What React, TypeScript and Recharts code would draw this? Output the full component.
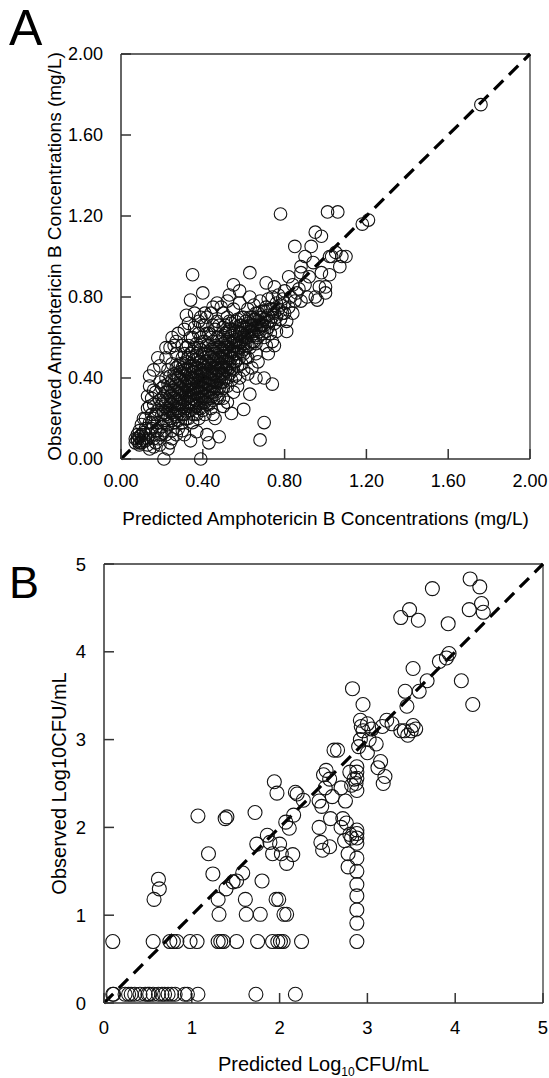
import React from 'react';
import { ScatterChart, Scatter, XAxis, YAxis, ReferenceLine } from 'recharts';

// A: predicted vs observed amphotericin B (mg/L)
const ampTicks = [0, 0.4, 0.8, 1.2, 1.6, 2.0];
const ampPoints: [number, number][] = [
  // near the origin
  [0.07, 0.08], [0.08, 0.09], [0.09, 0.08], [0.08, 0.1], [0.1, 0.09], [0.09, 0.11], [0.11, 0.1],
  [0.1, 0.12], [0.12, 0.09], [0.07, 0.1], [0.09, 0.07], [0.11, 0.13], [0.12, 0.15], [0.1, 0.17],
  [0.11, 0.2], [0.09, 0.14], [0.12, 0.12], [0.13, 0.1], [0.1, 0.08], [0.08, 0.12],
  [0.14, 0.05], [0.16, 0.06], [0.18, 0.1], [0.2, 0.12], [0.19, 0.07], [0.25, 0.1], [0.27, 0.12], [0.3, 0.14],
  // 0.12 - 0.2
  [0.13, 0.07], [0.14, 0.12], [0.14, 0.18], [0.15, 0.22], [0.13, 0.25], [0.13, 0.31], [0.14, 0.41],
  [0.15, 0.15], [0.16, 0.1], [0.16, 0.2], [0.16, 0.27], [0.17, 0.14], [0.17, 0.33], [0.18, 0.18],
  [0.18, 0.5], [0.18, 0.24], [0.19, 0.12], [0.19, 0.29], [0.19, 0.38], [0.2, 0.16], [0.2, 0.22],
  [0.2, 0.35], [0.15, 0.3], [0.17, 0.08], [0.12, 0.2], [0.14, 0.36], [0.16, 0.44], [0.19, 0.46],
  [0.15, 0.18], [0.17, 0.22], [0.18, 0.14], [0.16, 0.34], [0.14, 0.26],
  // 0.2 - 0.3
  [0.21, 0.0], [0.23, 0.05], [0.24, 0.08], [0.21, 0.14], [0.21, 0.19], [0.21, 0.26], [0.21, 0.31],
  [0.22, 0.12], [0.22, 0.22], [0.22, 0.28], [0.22, 0.4], [0.22, 0.5], [0.23, 0.17], [0.23, 0.24],
  [0.23, 0.33], [0.23, 0.44], [0.24, 0.2], [0.24, 0.27], [0.24, 0.36], [0.24, 0.55], [0.25, 0.14],
  [0.25, 0.23], [0.25, 0.3], [0.25, 0.39], [0.25, 0.47], [0.26, 0.18], [0.26, 0.26], [0.26, 0.34],
  [0.26, 0.42], [0.27, 0.21], [0.27, 0.29], [0.27, 0.37], [0.27, 0.52], [0.28, 0.15], [0.28, 0.24],
  [0.28, 0.32], [0.28, 0.4], [0.28, 0.46], [0.29, 0.22], [0.29, 0.27], [0.29, 0.35], [0.29, 0.43],
  [0.3, 0.18], [0.3, 0.3], [0.3, 0.38], [0.3, 0.5], [0.26, 0.56], [0.21, 0.36], [0.23, 0.29],
  [0.2, 0.27], [0.2, 0.3], [0.21, 0.23], [0.22, 0.19], [0.22, 0.33], [0.23, 0.21], [0.23, 0.37],
  [0.24, 0.24], [0.24, 0.31], [0.24, 0.41], [0.25, 0.19], [0.25, 0.27], [0.25, 0.34], [0.26, 0.22],
  [0.26, 0.3], [0.26, 0.38], [0.27, 0.25], [0.27, 0.33], [0.27, 0.41], [0.27, 0.45], [0.28, 0.19],
  [0.28, 0.28], [0.28, 0.36], [0.29, 0.31], [0.29, 0.39], [0.29, 0.47], [0.3, 0.22], [0.3, 0.26],
  [0.3, 0.34], [0.3, 0.42], [0.3, 0.45],
  // 0.3 - 0.4
  [0.31, 0.12], [0.31, 0.22], [0.31, 0.27], [0.31, 0.33], [0.31, 0.41], [0.31, 0.47], [0.32, 0.25],
  [0.32, 0.3], [0.32, 0.36], [0.32, 0.44], [0.32, 0.55], [0.32, 0.71], [0.33, 0.2], [0.33, 0.28],
  [0.33, 0.34], [0.33, 0.39], [0.33, 0.5], [0.34, 0.09], [0.34, 0.24], [0.34, 0.31], [0.34, 0.37],
  [0.34, 0.42], [0.34, 0.6], [0.34, 0.785], [0.35, 0.91], [0.35, 0.18], [0.35, 0.27], [0.35, 0.33],
  [0.35, 0.4], [0.35, 0.46], [0.35, 0.53], [0.36, 0.22], [0.36, 0.29], [0.36, 0.35], [0.36, 0.43],
  [0.36, 0.49], [0.36, 0.65], [0.37, 0.135], [0.37, 0.26], [0.37, 0.32], [0.37, 0.38], [0.37, 0.45],
  [0.37, 0.57], [0.38, 0.2], [0.38, 0.3], [0.38, 0.36], [0.38, 0.41], [0.38, 0.5], [0.38, 0.62],
  [0.39, 0.0], [0.39, 0.7], [0.39, 0.25], [0.39, 0.33], [0.39, 0.39], [0.39, 0.44], [0.39, 0.54],
  [0.4, 0.28], [0.4, 0.35], [0.4, 0.42], [0.4, 0.47], [0.4, 0.58], [0.4, 0.82],
  [0.31, 0.29], [0.31, 0.37], [0.31, 0.44], [0.31, 0.52], [0.32, 0.2], [0.32, 0.33], [0.32, 0.4],
  [0.32, 0.48], [0.33, 0.24], [0.33, 0.31], [0.33, 0.37], [0.33, 0.44], [0.33, 0.56], [0.34, 0.28],
  [0.34, 0.34], [0.34, 0.4], [0.34, 0.46], [0.34, 0.52], [0.35, 0.22], [0.35, 0.3], [0.35, 0.37],
  [0.35, 0.43], [0.35, 0.5], [0.35, 0.6], [0.36, 0.26], [0.36, 0.32], [0.36, 0.39], [0.36, 0.46],
  [0.36, 0.55], [0.37, 0.22], [0.37, 0.29], [0.37, 0.35], [0.37, 0.42], [0.37, 0.49], [0.37, 0.52],
  [0.38, 0.25], [0.38, 0.33], [0.38, 0.39], [0.38, 0.45], [0.38, 0.55], [0.39, 0.29], [0.39, 0.36],
  [0.39, 0.42], [0.39, 0.48], [0.39, 0.6], [0.4, 0.24], [0.4, 0.31], [0.4, 0.38], [0.4, 0.44],
  [0.4, 0.52], [0.4, 0.66],
  // 0.4 - 0.5
  [0.41, 0.22], [0.41, 0.31], [0.41, 0.38], [0.41, 0.45], [0.41, 0.52], [0.41, 0.66], [0.42, 0.12],
  [0.42, 0.27], [0.42, 0.34], [0.42, 0.4], [0.42, 0.48], [0.42, 0.56], [0.43, 0.08], [0.43, 0.3],
  [0.43, 0.37], [0.43, 0.43], [0.43, 0.51], [0.43, 0.62], [0.44, 0.25], [0.44, 0.33], [0.44, 0.39],
  [0.44, 0.46], [0.44, 0.54], [0.44, 0.72], [0.45, 0.29], [0.45, 0.36], [0.45, 0.42], [0.45, 0.49],
  [0.45, 0.58], [0.46, 0.2], [0.46, 0.32], [0.46, 0.38], [0.46, 0.45], [0.46, 0.52], [0.46, 0.64],
  [0.47, 0.35], [0.47, 0.41], [0.47, 0.48], [0.47, 0.55], [0.47, 0.68], [0.48, 0.11], [0.48, 0.3],
  [0.48, 0.39], [0.48, 0.44], [0.48, 0.5], [0.48, 0.6], [0.49, 0.34], [0.49, 0.42], [0.49, 0.47],
  [0.49, 0.53], [0.49, 0.75], [0.5, 0.38], [0.5, 0.45], [0.5, 0.51], [0.5, 0.57], [0.5, 0.65], [0.5, 0.26],
  [0.41, 0.28], [0.41, 0.35], [0.41, 0.42], [0.41, 0.48], [0.41, 0.58], [0.42, 0.31], [0.42, 0.37],
  [0.42, 0.44], [0.42, 0.52], [0.42, 0.62], [0.43, 0.27], [0.43, 0.34], [0.43, 0.4], [0.43, 0.47],
  [0.43, 0.56], [0.44, 0.3], [0.44, 0.36], [0.44, 0.42], [0.44, 0.5], [0.44, 0.6], [0.45, 0.33],
  [0.45, 0.39], [0.45, 0.45], [0.45, 0.53], [0.45, 0.66], [0.46, 0.36], [0.46, 0.42], [0.46, 0.49],
  [0.46, 0.56], [0.47, 0.3], [0.47, 0.38], [0.47, 0.45], [0.47, 0.51], [0.47, 0.6], [0.48, 0.35],
  [0.48, 0.42], [0.48, 0.47], [0.48, 0.55], [0.48, 0.66], [0.49, 0.38], [0.49, 0.45], [0.49, 0.5],
  [0.49, 0.58], [0.5, 0.35], [0.5, 0.42], [0.5, 0.48], [0.5, 0.54], [0.5, 0.61],
  // 0.5 - 0.6
  [0.51, 0.4], [0.51, 0.48], [0.51, 0.55], [0.51, 0.62], [0.52, 0.36], [0.52, 0.44], [0.52, 0.51],
  [0.52, 0.59], [0.52, 0.7], [0.53, 0.81], [0.53, 0.42], [0.53, 0.47], [0.53, 0.54], [0.53, 0.64],
  [0.54, 0.225], [0.54, 0.39], [0.54, 0.5], [0.54, 0.57], [0.54, 0.67], [0.55, 0.86], [0.55, 0.44],
  [0.55, 0.53], [0.55, 0.6], [0.55, 0.74], [0.56, 0.41], [0.56, 0.48], [0.56, 0.56], [0.56, 0.63],
  [0.57, 0.46], [0.57, 0.52], [0.57, 0.59], [0.57, 0.69], [0.58, 0.83], [0.58, 0.4], [0.58, 0.5],
  [0.58, 0.55], [0.58, 0.62], [0.58, 0.77], [0.59, 0.47], [0.59, 0.58], [0.59, 0.66], [0.6, 0.245],
  [0.6, 0.54], [0.6, 0.52], [0.6, 0.61], [0.6, 0.7], [0.6, 0.44],
  [0.51, 0.44], [0.51, 0.51], [0.51, 0.58], [0.51, 0.66], [0.52, 0.4], [0.52, 0.47], [0.52, 0.55],
  [0.52, 0.63], [0.53, 0.45], [0.53, 0.51], [0.53, 0.58], [0.53, 0.68], [0.54, 0.44], [0.54, 0.53],
  [0.54, 0.61], [0.55, 0.48], [0.55, 0.56], [0.55, 0.64], [0.56, 0.52], [0.56, 0.59], [0.56, 0.68],
  [0.57, 0.55], [0.57, 0.63], [0.58, 0.58], [0.58, 0.66], [0.59, 0.53], [0.59, 0.62], [0.59, 0.7],
  [0.6, 0.57], [0.6, 0.65],
  // 0.6 - 0.7
  [0.61, 0.57], [0.61, 0.64], [0.61, 0.5], [0.62, 0.6], [0.62, 0.67], [0.62, 0.74], [0.63, 0.32],
  [0.63, 0.8], [0.63, 0.92], [0.63, 0.55], [0.63, 0.63], [0.63, 0.7], [0.64, 0.58], [0.64, 0.66],
  [0.64, 0.61], [0.65, 0.62], [0.65, 0.69], [0.65, 0.76], [0.66, 0.4], [0.66, 0.57], [0.66, 0.65],
  [0.66, 0.72], [0.67, 0.6], [0.67, 0.68], [0.67, 0.64], [0.68, 0.094], [0.68, 0.63], [0.68, 0.7],
  [0.68, 0.78], [0.69, 0.66], [0.69, 0.73], [0.7, 0.18], [0.7, 0.4], [0.7, 0.6], [0.7, 0.69],
  [0.71, 0.87], [0.71, 0.56], [0.71, 0.75],
  [0.61, 0.6], [0.61, 0.68], [0.62, 0.56], [0.62, 0.63], [0.63, 0.66], [0.64, 0.63], [0.64, 0.7],
  [0.65, 0.58], [0.65, 0.66], [0.66, 0.61], [0.66, 0.69], [0.67, 0.72], [0.68, 0.66], [0.69, 0.62],
  [0.69, 0.7], [0.7, 0.66], [0.7, 0.73], [0.71, 0.63], [0.71, 0.7], [0.72, 0.68], [0.73, 0.74], [0.74, 0.7],
  // spread above and below the band
  [0.22, 0.55], [0.25, 0.6], [0.28, 0.62], [0.3, 0.56], [0.27, 0.58], [0.31, 0.64], [0.33, 0.67],
  [0.36, 0.72], [0.38, 0.68], [0.42, 0.7], [0.45, 0.75], [0.47, 0.77], [0.5, 0.72], [0.52, 0.78],
  [0.41, 0.72], [0.45, 0.22], [0.5, 0.3], [0.52, 0.28], [0.55, 0.33], [0.57, 0.36], [0.62, 0.42],
  [0.64, 0.45], [0.67, 0.48], [0.72, 0.52], [0.75, 0.56], [0.62, 0.5], [0.66, 0.52],
  // 0.7 - 0.8
  [0.72, 0.65], [0.72, 0.71], [0.72, 0.79], [0.73, 0.68], [0.73, 0.62], [0.74, 0.37], [0.74, 0.58],
  [0.74, 0.74], [0.74, 0.8], [0.75, 0.85], [0.75, 0.67], [0.75, 0.72], [0.76, 0.7], [0.76, 0.77],
  [0.76, 0.63], [0.77, 0.74], [0.77, 0.81], [0.78, 0.69], [0.78, 0.76], [0.78, 1.21], [0.79, 0.72],
  [0.79, 0.79], [0.8, 0.72], [0.8, 0.77], [0.8, 0.83], [0.81, 0.63], [0.81, 0.68],
  // upper tail
  [0.82, 0.75], [0.82, 0.9], [0.83, 0.8], [0.84, 0.86], [0.84, 0.72], [0.85, 0.78], [0.85, 1.05],
  [0.86, 0.82], [0.87, 0.84], [0.88, 0.92], [0.88, 0.78], [0.88, 0.95], [0.9, 0.86], [0.9, 1.0],
  [0.91, 0.8], [0.92, 0.9], [0.93, 1.05], [0.94, 0.97], [0.95, 0.8], [0.95, 1.12], [0.96, 0.785],
  [0.97, 0.85], [0.98, 1.1], [0.98, 0.92], [1.0, 0.85], [1.0, 0.82], [1.01, 1.22], [1.02, 0.91],
  [1.02, 1.0], [1.03, 1.0], [1.05, 1.02], [1.06, 1.22], [1.07, 0.95], [1.08, 1.0], [1.1, 1.0],
  [1.18, 1.16], [1.21, 1.18], [1.76, 1.75],
];

// B: predicted vs observed log10 CFU/mL
const cfuTicks = [0, 1, 2, 3, 4, 5];
const cfuPoints: [number, number][] = [
  // upper right
  [4.17, 4.83], [4.28, 4.74], [4.3, 4.55], [4.32, 4.45], [4.16, 4.48], [3.74, 4.72], [3.38, 4.39],
  [3.48, 4.48], [3.58, 4.36], [3.92, 4.32], [4.07, 3.67], [4.2, 3.4], [3.93, 3.98], [3.9, 3.93],
  [3.82, 3.89], [3.68, 3.67], [3.59, 3.55], [3.52, 3.81], [3.43, 3.55], [3.45, 3.38],
  [3.42, 3.1], [3.46, 3.05], [3.5, 3.1], [3.52, 3.16], [3.55, 3.12], [3.22, 3.22], [3.28, 3.18],
  [3.17, 3.15], [3.38, 3.1], [3.0, 3.18], [3.05, 3.12], [3.02, 3.0], [3.0, 2.85], [3.1, 2.95],
  [3.15, 2.75], [3.12, 2.68], [3.2, 2.58], [3.18, 2.5],
  [2.83, 3.58], [2.95, 3.4], [2.92, 3.22], [2.93, 3.15], [2.95, 3.1], [2.92, 3.0], [2.9, 2.92],
  // the column near 2.88
  [2.88, 2.69], [2.88, 2.63], [2.88, 2.56], [2.87, 2.5], [2.88, 2.42], [2.88, 1.97], [2.88, 1.93],
  [2.88, 1.88], [2.88, 1.82], [2.88, 1.65], [2.88, 1.5], [2.88, 1.35], [2.88, 1.22], [2.88, 1.06],
  [2.88, 0.91], [2.88, 0.7],
  [2.8, 2.63], [2.82, 2.48], [2.85, 2.55], [2.62, 2.88], [2.66, 2.88],
  [2.7, 2.45], [2.75, 2.3], [2.72, 2.1], [2.76, 2.05], [2.7, 2.0], [2.74, 1.85], [2.78, 1.7],
  [2.78, 1.55], [2.82, 1.88], [2.8, 1.92],
  [2.53, 2.65], [2.57, 2.55], [2.5, 2.6], [2.45, 2.3], [2.52, 2.45], [2.6, 2.35], [2.45, 2.0],
  [2.58, 2.1], [2.48, 2.24], [2.47, 1.83], [2.49, 1.74], [2.57, 1.78],
  [2.27, 2.31], [2.18, 2.4], [2.2, 2.38], [2.07, 2.06], [2.11, 1.99], [2.16, 2.14],
  [1.94, 2.52], [1.97, 2.39], [1.86, 1.91], [1.72, 2.17], [1.07, 2.13], [1.38, 2.1], [1.4, 2.12],
  // middle
  [1.19, 1.7], [0.62, 1.41], [0.63, 1.3], [0.57, 1.18], [1.24, 1.47], [1.74, 1.81], [1.58, 1.48],
  [1.51, 1.39], [1.47, 1.38], [1.39, 1.3], [1.3, 1.18], [1.31, 1.01], [1.61, 1.18], [1.62, 1.01],
  [1.78, 1.01], [1.8, 1.39], [1.96, 1.18], [1.99, 1.18], [2.05, 1.01], [2.08, 1.01], [1.92, 1.7],
  [2.02, 1.7], [2.08, 1.59], [2.15, 1.69], [1.89, 1.83], [2.0, 1.81],
  // row at 0.7
  [0.1, 0.7], [0.56, 0.7], [0.75, 0.7], [0.79, 0.7], [0.83, 0.7], [0.98, 0.7], [1.06, 0.7],
  [1.3, 0.7], [1.33, 0.7], [1.36, 0.7], [1.51, 0.7], [1.75, 0.7], [1.92, 0.7], [1.98, 0.7],
  [2.01, 0.7], [2.04, 0.7], [2.25, 0.7],
  // row at 0.1
  [0.1, 0.1], [0.11, 0.1], [0.24, 0.1], [0.28, 0.1], [0.31, 0.1], [0.35, 0.1], [0.41, 0.1],
  [0.47, 0.1], [0.5, 0.1], [0.52, 0.1], [0.56, 0.1], [0.62, 0.1], [0.66, 0.1], [0.69, 0.1],
  [0.73, 0.1], [0.77, 0.1], [0.81, 0.1], [0.92, 0.1], [0.95, 0.1], [1.07, 0.1], [1.73, 0.1],
  [2.18, 0.1],
];

const FONT = '"Liberation Sans", Arial, Helvetica, sans-serif';

const ampData = ampPoints.map(([x, y]) => ({ x, y }));
const cfuData = cfuPoints.map(([x, y]) => ({ x, y }));

const openCircle = (r: number) => (props: any) => (
  <circle cx={props.cx} cy={props.cy} r={r} fill="none" stroke="#111" strokeWidth={1.1} />
);

const axisStyle = { stroke: '#333', strokeWidth: 1.5 };
const tickStyle = (size: number) => ({ fill: '#000', fontSize: size, fontFamily: FONT });

export default function App() {
  return (
    <div style={{ position: 'absolute', left: 0, top: 0, width: 549, height: 1078, background: '#fff' }}>
      {/* Panel A */}
      <div style={{ position: 'absolute', left: 0, top: 0 }}>
        <ScatterChart width={549} height={540} margin={{ top: 54, right: 19, bottom: 0, left: 0 }}>
          <XAxis
            type="number"
            dataKey="x"
            domain={[0, 2]}
            ticks={ampTicks}
            interval={0}
            tickFormatter={(v: number) => v.toFixed(2)}
            height={81}
            tickSize={-10}
            tickMargin={25}
            axisLine={axisStyle}
            tickLine={axisStyle}
            tick={tickStyle(18)}
            label={{
              content: () => (
                <text x={325.5} y={525} textAnchor="middle" fontSize={19} fontFamily={FONT} fill="#000">
                  Predicted Amphotericin B Concentrations (mg/L)
                </text>
              ),
            }}
          />
          <YAxis
            type="number"
            dataKey="y"
            domain={[0, 2]}
            ticks={ampTicks}
            interval={0}
            tickFormatter={(v: number) => v.toFixed(2)}
            width={121}
            tickSize={-10}
            tickMargin={28}
            axisLine={axisStyle}
            tickLine={axisStyle}
            tick={tickStyle(18)}
            label={{
              content: () => (
                <g>
                  <text x={9} y={44.5} fontSize={50} fontFamily={FONT} fill="#000">A</text>
                  <text
                    x={54}
                    y={256.5}
                    transform="rotate(-90 54 256.5)"
                    textAnchor="middle"
                    dominantBaseline="central"
                    fontSize={19}
                    fontFamily={FONT}
                    fill="#000"
                  >
                    Observed Amphotericin B Concentrations (mg/L)
                  </text>
                </g>
              ),
            }}
          />
          <ReferenceLine y={2} stroke="#333" strokeWidth={1.5} />
          <ReferenceLine x={2} stroke="#555" strokeWidth={1.5} />
          <ReferenceLine
            segment={[{ x: 0, y: 0 }, { x: 2, y: 2 }]}
            stroke="#000"
            strokeWidth={3.2}
            strokeDasharray="13 8"
          />
          <Scatter data={ampData} shape={openCircle(6.3)} isAnimationActive={false} />
        </ScatterChart>
      </div>

      {/* Panel B */}
      <div style={{ position: 'absolute', left: 0, top: 540 }}>
        <ScatterChart width={549} height={538} margin={{ top: 24, right: 6, bottom: 0, left: 0 }}>
          <XAxis
            type="number"
            dataKey="x"
            domain={[0, 5]}
            ticks={cfuTicks}
            interval={0}
            height={75}
            tickSize={-10}
            tickMargin={28}
            axisLine={axisStyle}
            tickLine={axisStyle}
            tick={tickStyle(18.5)}
            label={{
              content: () => (
                <text x={323.5} y={531} textAnchor="middle" fontSize={20} fontFamily={FONT} fill="#000">
                  Predicted Log
                  <tspan fontSize={12} dy={5}>10</tspan>
                  <tspan dy={-5}>CFU/mL</tspan>
                </text>
              ),
            }}
          />
          <YAxis
            type="number"
            dataKey="y"
            domain={[0, 5]}
            ticks={cfuTicks}
            interval={0}
            width={104}
            tickSize={-10}
            tickMargin={28}
            axisLine={axisStyle}
            tickLine={axisStyle}
            tick={tickStyle(18.5)}
            label={{
              content: () => (
                <g>
                  <text x={9} y={58} fontSize={45} fontFamily={FONT} fill="#000">B</text>
                  <text
                    x={59}
                    y={243.5}
                    transform="rotate(-90 59 243.5)"
                    textAnchor="middle"
                    dominantBaseline="central"
                    fontSize={20}
                    fontFamily={FONT}
                    fill="#000"
                  >
                    Observed Log10CFU/mL
                  </text>
                </g>
              ),
            }}
          />
          <ReferenceLine y={5} stroke="#333" strokeWidth={1.5} />
          <ReferenceLine x={5} stroke="#555" strokeWidth={1.5} />
          <ReferenceLine
            segment={[{ x: 0, y: 0 }, { x: 5, y: 5 }]}
            stroke="#000"
            strokeWidth={3.2}
            strokeDasharray="13 8"
          />
          <Scatter data={cfuData} shape={openCircle(7)} isAnimationActive={false} />
        </ScatterChart>
      </div>
    </div>
  );
}
